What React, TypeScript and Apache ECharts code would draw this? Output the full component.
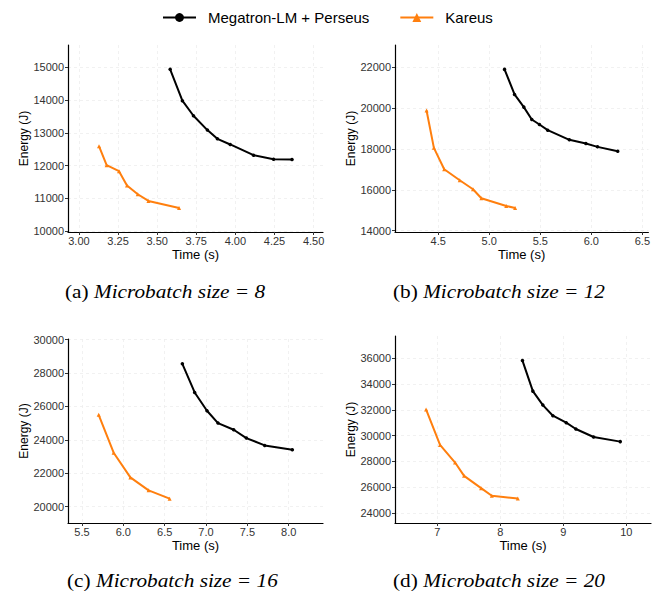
import React, { useEffect, useRef } from "react";
import * as echarts from "echarts";

// ---- Data ----
const seriesNames = ["Megatron-LM + Perseus", "Kareus"];

// (a) Microbatch size = 8
const megaA: [number, number][] = [
  [3.583, 14939], [3.661, 13980], [3.732, 13520], [3.821, 13082], [3.885, 12816],
  [3.967, 12643], [4.116, 12316], [4.244, 12194], [4.362, 12184],
];
const kareusA: [number, number][] = [
  [3.128, 12592], [3.177, 12010], [3.256, 11827], [3.307, 11388], [3.376, 11122],
  [3.444, 10918], [3.64, 10704],
];
// (b) Microbatch size = 12
const megaB: [number, number][] = [
  [5.15, 21886], [5.248, 20661], [5.339, 20041], [5.417, 19437], [5.492, 19192],
  [5.573, 18914], [5.785, 18441], [5.947, 18261], [6.061, 18098], [6.259, 17886],
];
const kareusB: [number, number][] = [
  [4.386, 19878], [4.458, 18049], [4.559, 17004], [4.711, 16465], [4.841, 16024],
  [4.923, 15584], [5.167, 15208], [5.254, 15110],
];
// (c) Microbatch size = 16
const megaC: [number, number][] = [
  [6.714, 28546], [6.863, 26833], [7.012, 25737], [7.145, 25000], [7.335, 24602],
  [7.488, 24104], [7.71, 23665], [8.044, 23406],
];
const kareusC: [number, number][] = [
  [5.702, 25498], [5.883, 23227], [6.085, 21753], [6.306, 20976], [6.56, 20478],
];
// (d) Microbatch size = 20
const megaD: [number, number][] = [
  [8.351, 35820], [8.516, 33450], [8.675, 32369], [8.834, 31545], [9.046, 31004],
  [9.199, 30515], [9.48, 29897], [9.904, 29536],
];
const kareusD: [number, number][] = [
  [6.82, 32034], [7.042, 29278], [7.281, 27914], [7.424, 26883], [7.694, 25930],
  [7.864, 25338], [8.277, 25132],
];

// Tick labels
const xTicksA = [3.0, 3.25, 3.5, 3.75, 4.0, 4.25, 4.5];
const yTicksA = [10000, 11000, 12000, 13000, 14000, 15000];
const xTicksB = [4.5, 5.0, 5.5, 6.0, 6.5];
const yTicksB = [14000, 16000, 18000, 20000, 22000];
const xTicksC = [5.5, 6.0, 6.5, 7.0, 7.5, 8.0];
const yTicksC = [20000, 22000, 24000, 26000, 28000, 30000];
const xTicksD = [7, 8, 9, 10];
const yTicksD = [24000, 26000, 28000, 30000, 32000, 34000, 36000];

// Axis extents
const xRangeA = [2.93, 4.56];
const yRangeA = [9970, 15680];
const xRangeB = [4.077, 6.559];
const yRangeB = [13935, 23078];
const xRangeC = [5.331, 8.415];
const yRangeC = [19024, 30030];
const xRangeD = [6.327, 10.392];
const yRangeD = [23227, 37725];

const captions = [
  ["(a) ", "Microbatch size = 8"],
  ["(b) ", "Microbatch size = 12"],
  ["(c) ", "Microbatch size = 16"],
  ["(d) ", "Microbatch size = 20"],
];

const BLACK = "#000000";
const ORANGE = "#ff7f0e";
const SANS = "Liberation Sans, Arial, sans-serif";
const SERIF = "Liberation Serif, Times New Roman, serif";

export default function App() {
  const ref = useRef<HTMLDivElement>(null);

  useEffect(() => {
    if (!ref.current) return;
    const chart = echarts.init(ref.current, undefined, { renderer: "svg" });

    const grids = [
      { left: 68, top: 45, width: 255, height: 187 },
      { left: 395, top: 45, width: 254, height: 187 },
      { left: 68, top: 339, width: 255, height: 184 },
      { left: 395, top: 336, width: 256, height: 187 },
    ];
    const xTicks = [xTicksA, xTicksB, xTicksC, xTicksD];
    const yTicks = [yTicksA, yTicksB, yTicksC, yTicksD];
    const xRanges = [xRangeA, xRangeB, xRangeC, xRangeD];
    const yRanges = [yRangeA, yRangeB, yRangeC, yRangeD];
    const xFmt = [
      (v: number) => v.toFixed(2),
      (v: number) => v.toFixed(1),
      (v: number) => v.toFixed(1),
      (v: number) => v.toFixed(0),
    ];
    const megas = [megaA, megaB, megaC, megaD];
    const kareuses = [kareusA, kareusB, kareusC, kareusD];

    const splitLine = {
      show: true,
      lineStyle: { color: "#ededed", type: [3, 3] as any, width: 0.8 },
    };

    const xAxis = grids.map((_, i) => ({
      type: "value",
      gridIndex: i,
      min: xRanges[i][0],
      max: xRanges[i][1],
      name: "Time (s)",
      nameLocation: "middle",
      nameGap: 16,
      nameTextStyle: { fontFamily: SANS, fontSize: 13, color: "#000" },
      axisLine: { show: true, onZero: false, lineStyle: { color: "#000", width: 1.2 } },
      axisTick: { show: true, length: 3, lineStyle: { color: "#333" }, customValues: xTicks[i] },
      axisLabel: {
        customValues: xTicks[i],
        formatter: xFmt[i],
        fontFamily: SANS,
        fontSize: 11,
        color: "#333",
        margin: 3,
      },
      splitLine,
    }));

    const yAxis = grids.map((_, i) => ({
      type: "value",
      gridIndex: i,
      min: yRanges[i][0],
      max: yRanges[i][1],
      name: "Energy (J)",
      nameLocation: "middle",
      nameGap: 37,
      nameTextStyle: { fontFamily: SANS, fontSize: 12, color: "#000" },
      axisLine: { show: true, onZero: false, lineStyle: { color: "#000", width: 1.2 } },
      axisTick: { show: true, length: 3, lineStyle: { color: "#333" }, customValues: yTicks[i] },
      axisLabel: {
        customValues: yTicks[i],
        formatter: (v: number) => String(Math.round(v)),
        fontFamily: SANS,
        fontSize: 11,
        color: "#333",
        margin: 4,
      },
      splitLine,
    }));

    const series: any[] = [];
    grids.forEach((_, i) => {
      series.push({
        type: "line",
        name: seriesNames[0],
        xAxisIndex: i,
        yAxisIndex: i,
        data: megas[i],
        symbol: "circle",
        symbolSize: 3.5,
        showSymbol: true,
        lineStyle: { color: BLACK, width: 2 },
        itemStyle: { color: BLACK },
      });
      series.push({
        type: "line",
        name: seriesNames[1],
        xAxisIndex: i,
        yAxisIndex: i,
        data: kareuses[i],
        symbol: "triangle",
        symbolSize: 4,
        showSymbol: true,
        lineStyle: { color: ORANGE, width: 2 },
        itemStyle: { color: ORANGE },
      });
    });

    const capPos = [
      [65, 291],
      [393, 291],
      [67, 580],
      [393, 580],
    ];
    const graphic = captions.map((c, i) => ({
      type: "text",
      x: capPos[i][0],
      y: capPos[i][1],
      scaleX: 1.12,
      style: {
        text: `{r|${c[0]}}{i|${c[1]}}`,
        verticalAlign: "middle",
        align: "left",
        fill: "#000",
        rich: {
          r: { fontFamily: SERIF, fontSize: 19, fill: "#000" },
          i: { fontFamily: SERIF, fontSize: 19, fontStyle: "italic", fill: "#000" },
        },
      },
    }));

    chart.setOption({
      animation: false,
      backgroundColor: "#ffffff",
      legend: {
        show: true,
        left: 162,
        top: 10,
        padding: 0,
        itemWidth: 33,
        itemHeight: 11,
        itemGap: 30,
        data: seriesNames,
        textStyle: { fontFamily: SANS, fontSize: 15, color: "#000", padding: [0, 0, 0, 7] },
      },
      grid: grids,
      xAxis,
      yAxis,
      series,
      graphic,
    } as any);

    return () => chart.dispose();
  }, []);

  return (
    <div
      ref={ref}
      style={{ position: "fixed", left: 0, top: 0, width: 653, height: 602 }}
    />
  );
}
